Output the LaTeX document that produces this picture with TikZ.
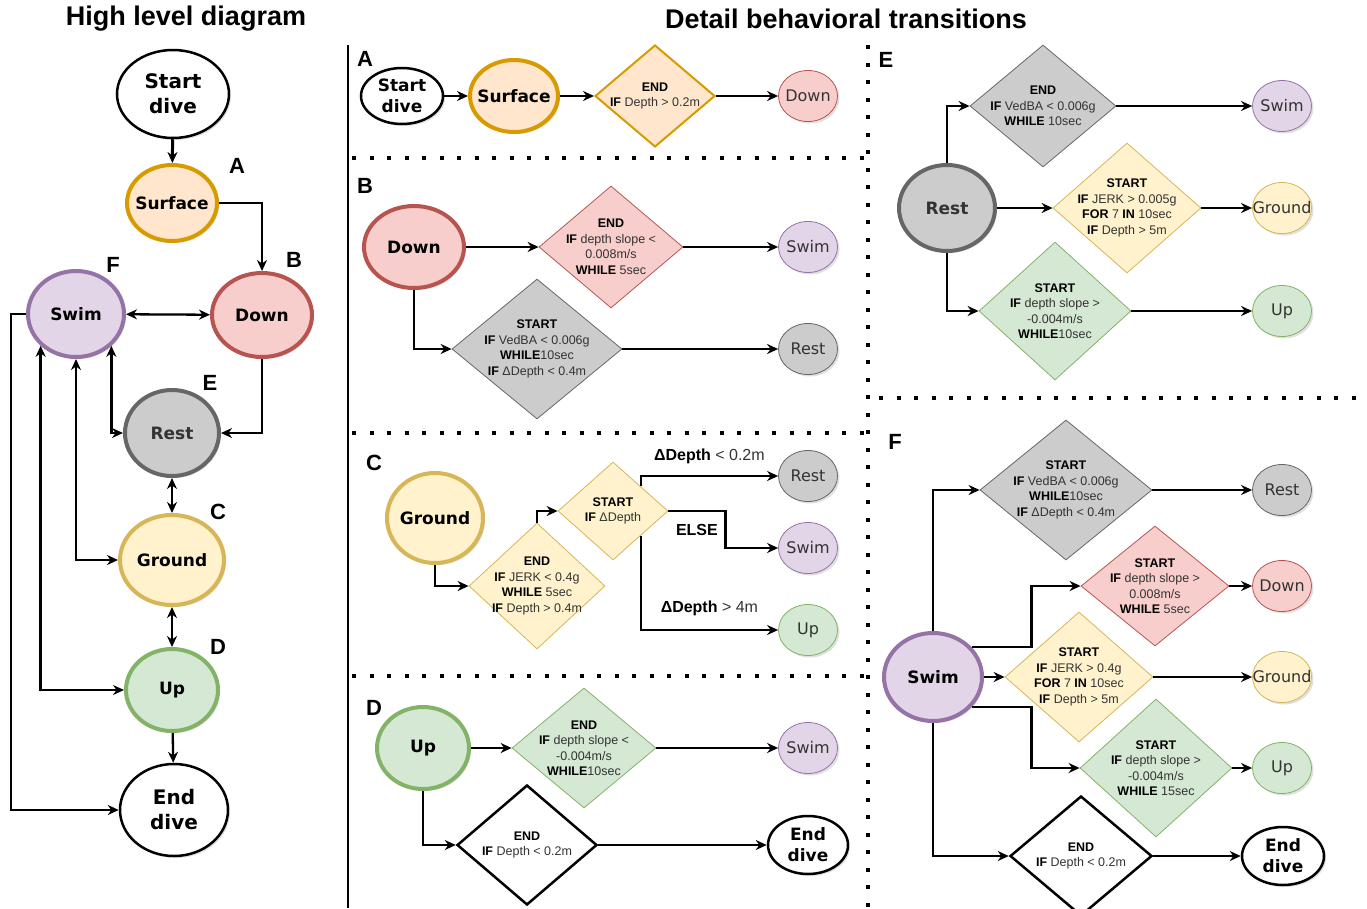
\documentclass[tikz,border=0pt]{standalone}
\usepackage{fontspec}
\setmainfont{Liberation Sans}
\newfontfamily\dejavu{DejaVu Sans}
\usetikzlibrary{shapes.geometric, arrows.meta, shadows}

\definecolor{orangeD}{HTML}{D79B00}
\definecolor{orangeF}{HTML}{FFE6CC}
\definecolor{redD}{HTML}{B85450}
\definecolor{redF}{HTML}{F8CECC}
\definecolor{purpleD}{HTML}{9673A6}
\definecolor{purpleF}{HTML}{E1D5E7}
\definecolor{grayD}{HTML}{666666}
\definecolor{grayF}{HTML}{CCCCCC}
\definecolor{yellowD}{HTML}{D6B656}
\definecolor{yellowF}{HTML}{FFF2CC}
\definecolor{greenD}{HTML}{82B366}
\definecolor{greenF}{HTML}{D5E8D4}
\definecolor{txt}{HTML}{333333}
\newcommand{\kwd}[1]{\textbf{\color{black}#1}}

\begin{document}
\begin{tikzpicture}[x=1pt, y=-1pt,
            arr/.style = {line width=2.3pt, -{Stealth[length=11pt, width=10pt]}},
            twoway/.style = {line width=2.3pt, {Stealth[length=11pt, width=10pt]}-{Stealth[length=11pt, width=10pt]}},
            softshadow/.style = {drop shadow={fill=black!40, opacity=0.3, shadow xshift=2pt, shadow yshift=-2pt}},
            big/.style = {ellipse, line width=4pt, inner sep=0pt, softshadow},
            endpt/.style = {ellipse, draw=black, fill=white, line width=2.5pt, inner sep=0pt, softshadow},
            goal/.style = {ellipse, line width=0.8pt, inner sep=0pt, minimum width=59pt, minimum height=51pt, softshadow},
            dia/.style = {diamond, line width=0.8pt, inner sep=0pt},
            stopdia/.style = {diamond, draw=black, fill=white, line width=2.5pt, inner sep=0pt},
            cOrange/.style = {draw=orangeD, fill=orangeF},
            cRed/.style = {draw=redD, fill=redF},
            cPurple/.style = {draw=purpleD, fill=purpleF},
            cGray/.style = {draw=grayD, fill=grayF},
            cYellow/.style = {draw=yellowD, fill=yellowF},
            cGreen/.style = {draw=greenD, fill=greenF},
            bigtxt/.style = {font=\dejavu\bfseries\fontsize{17}{21}\selectfont, align=center},
            hugetxt/.style = {font=\dejavu\bfseries\fontsize{20}{25}\selectfont, align=center},
            goaltxt/.style = {font=\dejavu\fontsize{16}{19}\selectfont, text=txt},
            dtx/.style = {font=\fontsize{12.5}{15.5}\selectfont, align=center, text=txt},
            lbl/.style = {font=\fontsize{16}{19}\selectfont, text=txt},
            letter/.style = {font=\bfseries\fontsize{22}{26}\selectfont},
            ttl/.style = {font=\bfseries\fontsize{27}{30}\selectfont},
            dotsep/.style = {line width=4pt, dash pattern=on 4pt off 13.5pt}]

    \useasboundingbox (0,0) rectangle (1367,908);

    % separators
    \draw[line width=2.5pt] (348,45) -- (348,908);
    \draw[dotsep] (352,158) -- (868,158);
    \draw[dotsep] (352,433) -- (868,433);
    \draw[dotsep] (352,676) -- (868,676);
    \draw[dotsep] (868,45) -- (868,908);
    \draw[dotsep] (879,398) -- (1362,398);

    \node[ttl] (tHigh) at (186,19) {High level diagram};
    \node[ttl] (tDetail) at (846,19) {Detail behavioral transitions};

    % high level diagram
    \node[endpt, minimum width=112pt, minimum height=88pt, label={[hugetxt]center:Start\\dive}] (hStart) at (173,94) {};
    \node[big, cOrange, minimum width=90pt, minimum height=76pt, label={[bigtxt]center:Surface}] (hSurf) at (172,203) {};
    \node[big, cRed, minimum width=100pt, minimum height=84pt, label={[bigtxt]center:Down}] (hDown) at (262,315) {};
    \node[big, cPurple, minimum width=96pt, minimum height=86pt, label={[bigtxt]center:Swim}] (hSwim) at (76,314) {};
    \node[big, cGray, minimum width=94pt, minimum height=86pt, label={[bigtxt, text=txt]center:Rest}] (hRest) at (172,433) {};
    \node[big, cYellow, minimum width=104pt, minimum height=90pt, label={[bigtxt]center:Ground}] (hGround) at (172,560) {};
    \node[big, cGreen, minimum width=92pt, minimum height=82pt, label={[bigtxt]center:Up}] (hUp) at (172,690) {};
    \node[endpt, minimum width=108pt, minimum height=92pt, label={[hugetxt]center:End\\dive}] (hEnd) at (174,810) {};
    \coordinate (hLeft) at (11,314);

    \node[letter] (lA) at (237,166) {A};
    \node[letter] (lB) at (294,260) {B};
    \node[letter] (lF) at (113,265) {F};
    \node[letter] (lE) at (210,383) {E};
    \node[letter] (lC) at (218,512) {C};
    \node[letter] (lD) at (218,647) {D};

    \draw[arr, line width=3pt] (hStart) -- (hSurf);
    \draw[arr] (hSurf) -| (hDown);
    \draw[twoway] (hSwim) -- (hDown);
    \draw[arr] (hDown) |- (hRest);
    \draw[twoway] (hSwim.south east) |- (hRest);
    \draw[twoway] (hRest) -- (hGround);
    \draw[twoway] (hSwim) |- (hGround);
    \draw[twoway] (hGround) -- (hUp);
    \draw[twoway] (hSwim.south west) |- (hUp);
    \draw[arr] (hUp) -- (hEnd);
    \draw[arr] (hSwim) -- (hLeft) |- (hEnd);

    % panel A
    \node[letter] (pA) at (365,59) {A};
    \node[endpt, minimum width=82pt, minimum height=56pt, label={[bigtxt]center:Start\\dive}] (aStart) at (402,96) {};
    \node[big, cOrange, minimum width=88pt, minimum height=72pt, label={[bigtxt]center:Surface}] (aSurf) at (514,96) {};
    \node[dia, cOrange, line width=2pt, minimum width=120pt, minimum height=102pt,
          label={[dtx]center:\kwd{END}\\\kwd{IF} Depth > 0.2m}] (aEnd) at (655,96) {};
    \node[goal, cRed, label={[goaltxt]center:Down}] (aDown) at (808,96) {};
    \draw[arr] (aStart) -- (aSurf);
    \draw[arr] (aSurf) -- (aEnd);
    \draw[arr] (aEnd) -- (aDown);

    % panel B
    \node[letter] (pB) at (365,186) {B};
    \node[big, cRed, minimum width=100pt, minimum height=82pt, label={[bigtxt]center:Down}] (bDown) at (414,247) {};
    \node[dia, cRed, minimum width=144pt, minimum height=122pt,
          label={[dtx]center:\kwd{END}\\\kwd{IF} depth slope <\\0.008m/s\\\kwd{WHILE} 5sec}] (bEnd) at (611,247) {};
    \node[goal, cPurple, label={[goaltxt]center:Swim}] (bSwim) at (808,247) {};
    \node[dia, cGray, minimum width=170pt, minimum height=140pt,
          label={[dtx]center:\kwd{START}\\\kwd{IF} VedBA < 0.006g\\\kwd{WHILE}10sec\\\kwd{IF} ΔDepth < 0.4m}] (bStart) at (537,349) {};
    \node[goal, cGray, label={[goaltxt]center:Rest}] (bRest) at (808,349) {};
    \draw[arr] (bDown) -- (bEnd);
    \draw[arr] (bEnd) -- (bSwim);
    \draw[arr] (bDown) |- (bStart);
    \draw[arr] (bStart) -- (bRest);

    % panel C
    \node[letter] (pC) at (374,463) {C};
    \node[big, cYellow, minimum width=96pt, minimum height=90pt, label={[bigtxt]center:Ground}] (cGround) at (435,518) {};
    \node[dia, cYellow, minimum width=136pt, minimum height=126pt,
          label={[dtx]center:\kwd{END}\\\kwd{IF} JERK < 0.4g\\\kwd{WHILE} 5sec\\\kwd{IF} Depth > 0.4m}] (cEnd) at (537,586) {};
    \node[dia, cYellow, minimum width=110pt, minimum height=98pt,
          label={[dtx]center:\kwd{START}\\\kwd{IF} ΔDepth}] (cStart) at (613,511) {};
    \node[goal, cGray, label={[goaltxt]center:Rest}] (cRest) at (808,476) {};
    \node[goal, cPurple, label={[goaltxt]center:Swim}] (cSwim) at (808,548) {};
    \node[goal, cGreen, label={[goaltxt]center:Up}] (cUp) at (808,630) {};
    \draw[arr] (cGround) |- (cEnd);
    \draw[arr] (cEnd) |- (cStart);
    \draw[arr] (cStart.north east) |- node[lbl, pos=0.75, above=8pt] {\kwd{ΔDepth} < 0.2m} (cRest);
    \draw[arr] (cStart.east) -- ++(57,0) node[lbl, midway, below=9pt] {\kwd{ELSE}} |- (cSwim);
    \draw[arr] (cStart.south east) |- node[lbl, pos=0.75, above=10pt] {\kwd{ΔDepth} > 4m} (cUp);

    % panel D
    \node[letter] (pD) at (374,708) {D};
    \node[big, cGreen, minimum width=92pt, minimum height=82pt, label={[bigtxt]center:Up}] (dUp) at (423,748) {};
    \node[dia, cGreen, minimum width=144pt, minimum height=120pt,
          label={[dtx]center:\kwd{END}\\\kwd{IF} depth slope <\\-0.004m/s\\\kwd{WHILE}10sec}] (dEnd) at (584,748) {};
    \node[goal, cPurple, label={[goaltxt]center:Swim}] (dSwim) at (808,748) {};
    \node[stopdia, minimum width=140pt, minimum height=120pt,
          label={[dtx]center:\kwd{END}\\\kwd{IF} Depth < 0.2m}] (dStop) at (527,845) {};
    \node[endpt, minimum width=80pt, minimum height=58pt, label={[bigtxt]center:End\\dive}] (dDive) at (808,845) {};
    \draw[arr] (dUp) -- (dEnd);
    \draw[arr] (dEnd) -- (dSwim);
    \draw[arr] (dUp) |- (dStop);
    \draw[arr] (dStop) -- (dDive);

    % panel E
    \node[letter] (pE) at (886,60) {E};
    \node[big, cGray, minimum width=96pt, minimum height=86pt, label={[bigtxt, text=txt]center:Rest}] (eRest) at (947,208) {};
    \node[dia, cGray, minimum width=146pt, minimum height=122pt,
          label={[dtx]center:\kwd{END}\\\kwd{IF} VedBA < 0.006g\\\kwd{WHILE} 10sec}] (eEnd) at (1043,106) {};
    \node[goal, cPurple, label={[goaltxt]center:Swim}] (eSwim) at (1282,106) {};
    \node[dia, cYellow, minimum width=148pt, minimum height=130pt,
          label={[dtx]center:\kwd{START}\\\kwd{IF} JERK > 0.005g\\\kwd{FOR} 7 \kwd{IN} 10sec\\\kwd{IF} Depth > 5m}] (eGrd) at (1127,208) {};
    \node[goal, cYellow, label={[goaltxt]center:Ground}] (eGround) at (1282,208) {};
    \node[dia, cGreen, minimum width=152pt, minimum height=138pt,
          label={[dtx]center:\kwd{START}\\\kwd{IF} depth slope >\\-0.004m/s\\\kwd{WHILE}10sec}] (eUpS) at (1055,311) {};
    \node[goal, cGreen, label={[goaltxt]center:Up}] (eUp) at (1282,311) {};
    \draw[arr] (eRest) |- (eEnd);
    \draw[arr] (eRest) -- (eGrd);
    \draw[arr] (eRest) |- (eUpS);
    \draw[arr] (eEnd) -- (eSwim);
    \draw[arr] (eGrd) -- (eGround);
    \draw[arr] (eUpS) -- (eUp);

    % panel F
    \node[letter] (pF) at (895,442) {F};
    \node[big, cPurple, minimum width=98pt, minimum height=88pt, label={[bigtxt]center:Swim}] (fSwim) at (933,677) {};
    \node[dia, cGray, minimum width=172pt, minimum height=140pt,
          label={[dtx]center:\kwd{START}\\\kwd{IF} VedBA < 0.006g\\\kwd{WHILE}10sec\\\kwd{IF} ΔDepth < 0.4m}] (fRestS) at (1066,490) {};
    \node[goal, cGray, label={[goaltxt]center:Rest}] (fRest) at (1282,490) {};
    \node[dia, cRed, minimum width=148pt, minimum height=120pt,
          label={[dtx]center:\kwd{START}\\\kwd{IF} depth slope >\\0.008m/s\\\kwd{WHILE} 5sec}] (fDownS) at (1155,586) {};
    \node[goal, cRed, label={[goaltxt]center:Down}] (fDown) at (1282,586) {};
    \node[dia, cYellow, minimum width=148pt, minimum height=130pt,
          label={[dtx]center:\kwd{START}\\\kwd{IF} JERK > 0.4g\\\kwd{FOR} 7 \kwd{IN} 10sec\\\kwd{IF} Depth > 5m}] (fGrdS) at (1079,677) {};
    \node[goal, cYellow, label={[goaltxt]center:Ground}] (fGround) at (1282,677) {};
    \node[dia, cGreen, minimum width=152pt, minimum height=138pt,
          label={[dtx]center:\kwd{START}\\\kwd{IF} depth slope >\\-0.004m/s\\\kwd{WHILE} 15sec}] (fUpS) at (1156,768) {};
    \node[goal, cGreen, label={[goaltxt]center:Up}] (fUp) at (1282,768) {};
    \node[stopdia, minimum width=142pt, minimum height=120pt,
          label={[dtx]center:\kwd{END}\\\kwd{IF} Depth < 0.2m}] (fStop) at (1081,856) {};
    \node[endpt, minimum width=82pt, minimum height=58pt, label={[bigtxt]center:End\\dive}] (fDive) at (1283,856) {};
    \draw[arr] (fSwim) |- (fRestS);
    \draw[arr] (fSwim.38) -- ++(60,0) |- (fDownS);
    \draw[arr] (fSwim) -- (fGrdS);
    \draw[arr] (fSwim.-38) -- ++(60,0) |- (fUpS);
    \draw[arr] (fSwim) |- (fStop);
    \draw[arr] (fRestS) -- (fRest);
    \draw[arr] (fDownS) -- (fDown);
    \draw[arr] (fGrdS) -- (fGround);
    \draw[arr] (fUpS) -- (fUp);
    \draw[arr] (fStop) -- (fDive);
\end{tikzpicture}
\end{document}
